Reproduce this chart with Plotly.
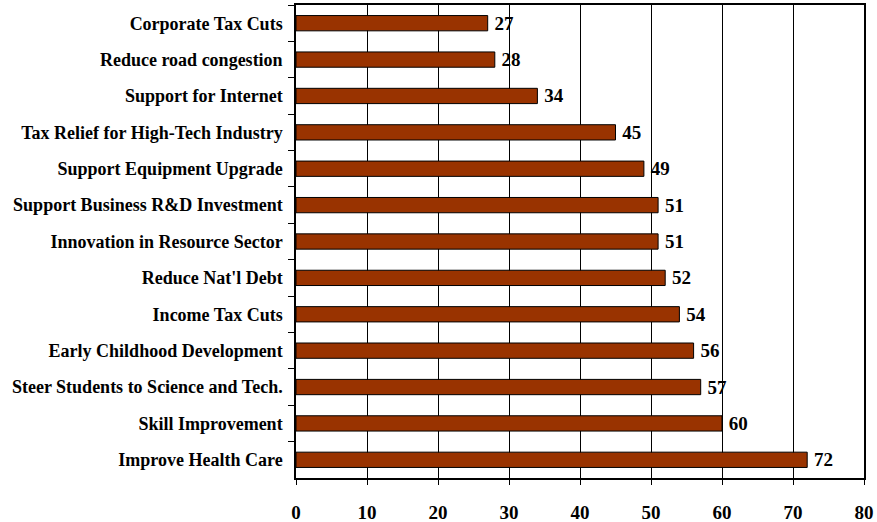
import plotly.graph_objects as go

categories = [
    "Corporate Tax Cuts",
    "Reduce road congestion",
    "Support for Internet",
    "Tax Relief for High-Tech Industry",
    "Support Equipment Upgrade",
    "Support Business R&D Investment",
    "Innovation in Resource Sector",
    "Reduce Nat'l Debt",
    "Income Tax Cuts",
    "Early Childhood Development",
    "Steer Students to Science and Tech.",
    "Skill Improvement",
    "Improve Health Care",
]
values = [27, 28, 34, 45, 49, 51, 51, 52, 54, 56, 57, 60, 72]
x_ticks = [0, 10, 20, 30, 40, 50, 60, 70, 80]

font_family = "Liberation Serif, Times New Roman, serif"

fig = go.Figure(go.Bar(
    x=values,
    y=categories,
    orientation="h",
    marker=dict(color="#993300", line=dict(color="black", width=1)),
    text=["\u2009" + str(v) for v in values],
    textposition="outside",
    constraintext="none",
    textfont=dict(family=font_family, size=19, color="black", weight="bold"),
    cliponaxis=False,
    width=0.42,
    hoverinfo="x+y",
))

fig.update_layout(
    width=877, height=522,
    margin=dict(l=296, r=13, t=5, b=44),
    plot_bgcolor="white", paper_bgcolor="white",
    showlegend=False,
    xaxis=dict(
        range=[0, 80], tickvals=x_ticks, ticktext=[str(t) for t in x_ticks],
        showgrid=True, gridcolor="black", gridwidth=1,
        showline=True, linecolor="black", linewidth=1.5, mirror=True,
        ticks="outside", ticklen=5, tickcolor="black",
        tickfont=dict(family=font_family, size=19, color="black", weight="bold"),
        ticklabelstandoff=11,
        zeroline=False, fixedrange=True, automargin=False,
    ),
    yaxis=dict(
        categoryorder="array", categoryarray=categories,
        autorange="reversed",
        showline=True, linecolor="black", linewidth=1.5, mirror=True,
        ticks="outside", ticklen=6, tickcolor="black", tickson="boundaries",
        tickfont=dict(family=font_family, size=18, color="black", weight="bold"),
        ticklabelstandoff=8,
        showgrid=False, fixedrange=True, automargin=False,
    ),
)

fig.write_html(
    "out.html",
    config={"displayModeBar": False},
    post_script="document.body.style.margin='0px';",
)
